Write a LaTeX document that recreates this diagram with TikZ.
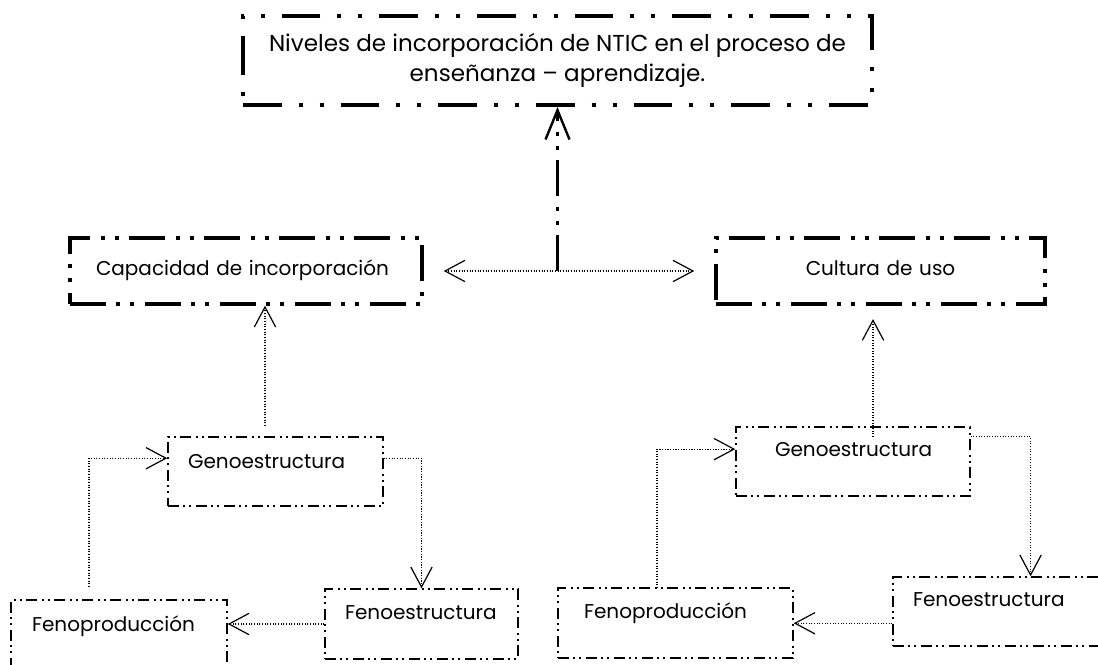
\documentclass[tikz,border=0pt]{standalone}
\usepackage{fontspec}
\setmainfont{Poppins}
\usepackage{tikz}
\usetikzlibrary{positioning,arrows.meta}

\tikzset{
  flecha/.tip={Straight Barb[length=15pt,width=16pt,line width=0.9pt]},
  topbox/.style={draw, line width=3pt, dash pattern=on 29pt off 12.75pt on 3pt off 12.75pt on 3pt off 12.75pt, inner sep=0pt},
  midbox/.style={draw, line width=2.6pt, dash pattern=on 27pt off 7.5pt on 3pt off 7.5pt on 3pt off 8.25pt, inner ysep=0pt, font=\smallfont},
  thinbox/.style={draw, line width=1.1pt, dash pattern=on 8.25pt off 3pt on 1.5pt off 3pt on 1.5pt off 3.75pt, inner ysep=0pt, align=left, font=\smallfont},
  flow/.style={line width=0.8pt, dash pattern=on 0.8pt off 1.2pt, -flecha},
  mainline/.style={line width=2.2pt, dash pattern=on 27pt off 7.5pt on 3pt off 7.5pt on 3pt off 8.25pt, -{Straight Barb[length=22pt,width=18pt,line width=1.8pt]}}
}
\newcommand{\smallfont}{\fontsize{15}{18}\selectfont\hyphenpenalty=10000}
\newcommand{\bigfont}{\fontsize{17.3}{22.5}\selectfont}

\begin{document}
\begin{tikzpicture}[x=0.75pt,y=0.75pt,yscale=-1,xscale=1]
\useasboundingbox (0,0) rectangle (1098,664);

%Shape: Rectangle
\node[topbox, minimum width=471.75pt, minimum height=66.75pt, align=center, font=\bigfont] (niveles) at (557.5,60.5) {Niveles de incorporación de NTIC en el proceso de\\enseñanza – aprendizaje.};
%Shape: Rectangle
\node[midbox, inner xsep=19.5pt, text width=225pt, align=left, text height=27.75pt, text depth=21.75pt] (capacidad) at (246,271) {Capacidad de incorporación};
%Shape: Rectangle
\node[midbox, inner xsep=10pt, text width=226.75pt, align=center, text height=27.75pt, text depth=21.75pt] (cultura) at (880.5,271) {Cultura de uso};

%Shape: Rectangle
\node[thinbox, inner xsep=15pt, text width=131.25pt, text height=23.25pt, text depth=28.5pt] (genoL) at (275.5,471.5) {Genoestructura};
%Shape: Rectangle
\node[thinbox, inner xsep=15pt, text width=114.75pt, text height=22.5pt, text depth=30pt] (fenoEL) at (421.5,624) {Fenoestructura};
%Shape: Rectangle
\node[thinbox, inner xsep=15.75pt, text width=130.5pt, text height=23.25pt, text depth=29.25pt] (fenoPL) at (119,635) {Fenoproducción};

%Shape: Rectangle
\node[thinbox, inner xsep=29.25pt, text width=117pt, text height=21.75pt, text depth=30pt] (genoR) at (853,461.5) {Genoestructura};
%Shape: Rectangle
\node[thinbox, inner xsep=19.5pt, text width=137.25pt, text height=22.5pt, text depth=30pt] (fenoPR) at (675.5,623) {Fenoproducción};
%Shape: Rectangle
\node[thinbox, inner xsep=15pt, text width=136.5pt, text height=21.75pt, text depth=30pt] (fenoER) at (1004,611.5) {Fenoestructura};

%Straight Lines
\coordinate (centro) at (niveles.south |- capacidad.east);
\draw[mainline] (centro) -- (niveles.south);
\draw[flow, flecha-flecha, shorten <=15pt, shorten >=15pt] (capacidad.east) -- (cultura.west);

%Connector left
\coordinate (gL) at (265,426);
\coordinate (pL) at (89,587);
\draw[flow] (gL) -- (gL |- capacidad.south);
\draw[flow] (pL) |- (genoL.173);
\draw[flow] (genoL.7) -| (fenoEL.north);
\draw[flow] (fenoEL.west) -- (fenoEL.west -| fenoPL.east);

%Connector right
\coordinate (gR) at (873,437);
\coordinate (pR) at (657,588);
\draw[flow, shorten >=10pt] (gR) -- (gR |- cultura.south);
\draw[flow] (pR) |- (genoR.174);
\draw[flow] (genoR.12) -| (fenoER.53);
\draw[flow] (fenoER.186) -- (fenoER.186 -| fenoPR.east);

\end{tikzpicture}
\end{document}
